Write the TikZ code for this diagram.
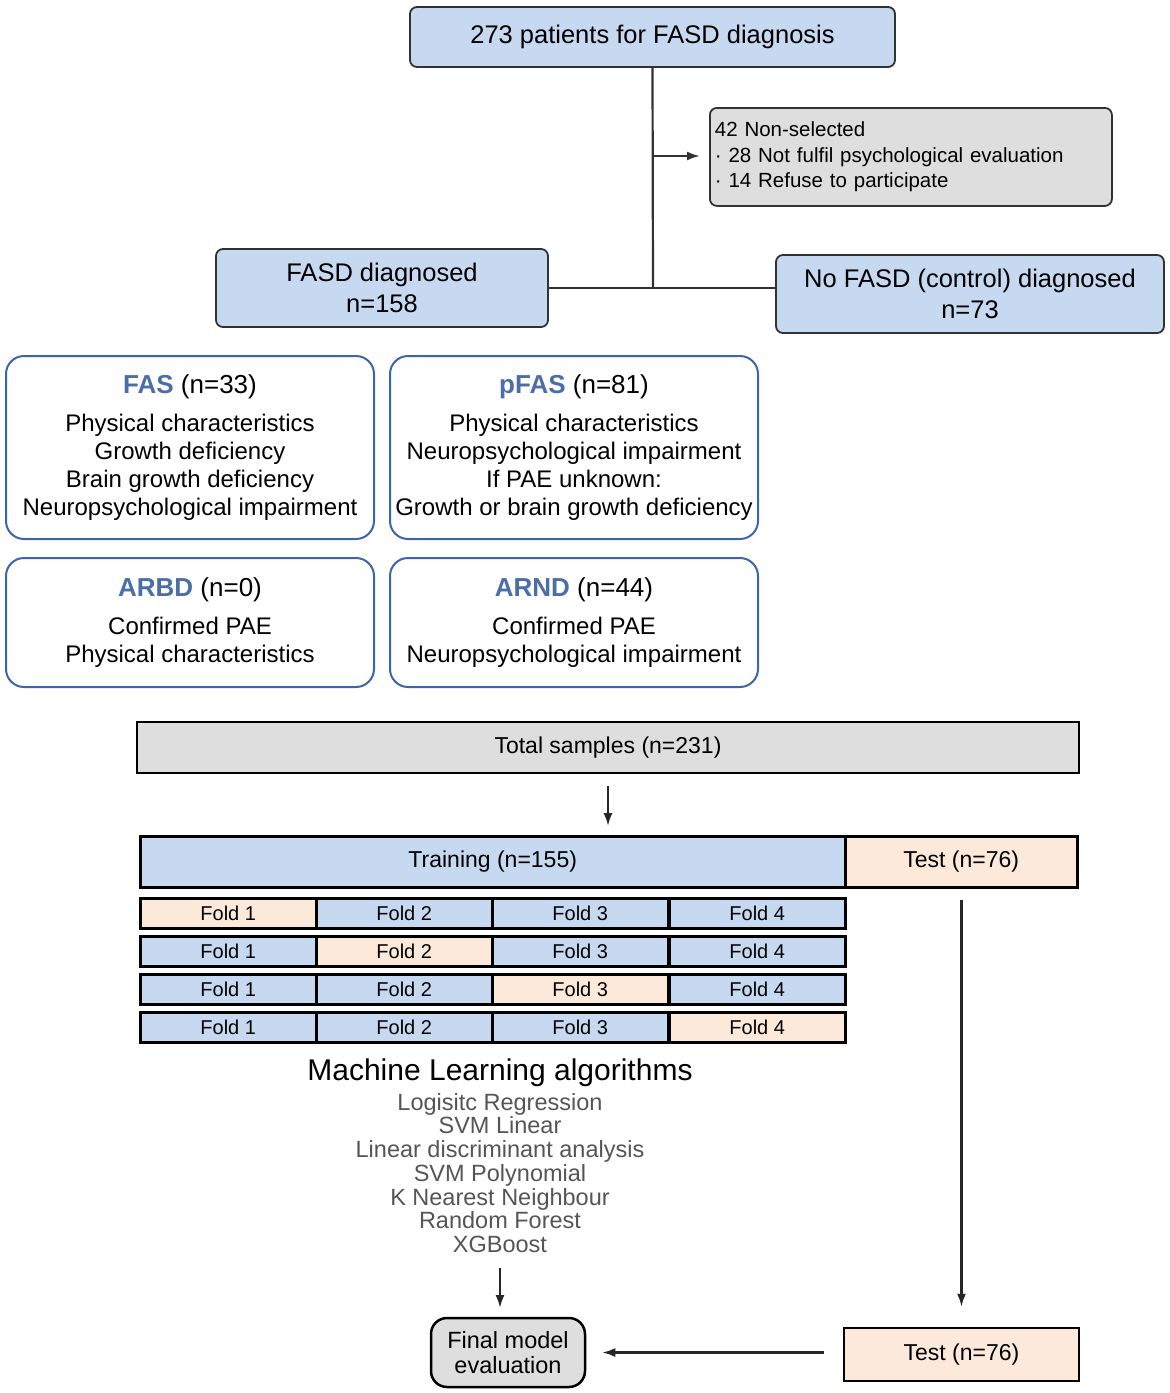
\documentclass[tikz,border=0pt]{standalone}
\usepackage{fontspec}
\setmainfont{Liberation Sans}
\usetikzlibrary{arrows.meta}
\definecolor{cblue}{RGB}{198,217,241}
\definecolor{cpeach}{RGB}{253,233,218}
\definecolor{cgray}{RGB}{222,222,222}
\definecolor{cborder}{RGB}{62,100,176}
\definecolor{ctitle}{RGB}{76,110,168}
\definecolor{cdark}{RGB}{50,50,50}
\definecolor{clist}{RGB}{85,85,85}
\tikzset{
  topbox/.style={draw=cdark, line width=1.8pt, rounded corners=7pt, fill=cblue, align=center, inner sep=0pt},
  catbox/.style={draw=cborder, line width=2pt, rounded corners=18pt, fill=white, align=center, inner sep=0pt, font=\fontsize{24}{28}\selectfont},
  rectbox/.style={draw=black, line width=2.5pt, inner sep=0pt, align=center, font=\fontsize{23}{27}\selectfont},
  foldbox/.style={rectbox, minimum width=176pt, minimum height=30pt, anchor=north west, font=\fontsize{20}{24}\selectfont},
  conn/.style={draw=cdark, line width=2.2pt},
  arr/.style={draw=black!85, line width=2.2pt, -{Latex[length=13pt,width=9pt]}}
}
\newcommand{\ttlfont}{\fontsize{26}{30}\selectfont}
\begin{document}
\begin{tikzpicture}[x=1pt,y=-1pt]
\useasboundingbox[fill=white] (0,0) rectangle (1170,1393);
% top part
\node[topbox, minimum width=485pt, minimum height=60pt, font=\fontsize{25.5}{30}\selectfont] (top) at (652.5,37) {273 patients for FASD diagnosis};
\node[topbox, fill=cgray, minimum width=402pt, minimum height=98pt, anchor=north west, align=left, font=\fontsize{20.5}{25.5}\selectfont, text width=392pt] (nonsel) at (709,107) {42 Non-selected\\ · 28 Not fulfil psychological evaluation\\ · 14 Refuse to participate};
\node[topbox, minimum width=332pt, minimum height=78pt, font=\fontsize{25.5}{31}\selectfont] (fasd) at (382,288) {FASD diagnosed\\ n=158};
\node[topbox, minimum width=388pt, minimum height=78pt, font=\fontsize{25.5}{31}\selectfont] (nofasd) at (970,294) {No FASD (control) diagnosed\\ n=73};
\coordinate (j1) at (653,288);
\coordinate (j2) at (653,156);
\coordinate (j3) at (700,156);
\draw[conn] (top.south) -- (j1);
\draw[conn] (fasd.east) -- (fasd.east -| nofasd.west);
\draw[conn, -{Latex[length=13pt,width=9pt]}] (j2) -- (j3);
% category boxes
\node[catbox, minimum width=368pt, minimum height=183pt] (fas) at (190,447.5) {{\ttlfont\textcolor{ctitle}{\bfseries FAS} (n=33)}\\[10pt] Physical characteristics\\ Growth deficiency\\ Brain growth deficiency\\ Neuropsychological impairment};
\node[catbox, minimum width=368pt, minimum height=183pt] (pfas) at (574,447.5) {{\ttlfont\textcolor{ctitle}{\bfseries pFAS} (n=81)}\\[10pt] Physical characteristics\\ Neuropsychological impairment\\ If PAE unknown:\\ Growth or brain growth deficiency};
\node[catbox, minimum width=368pt, minimum height=129pt] (arbd) at (190,622.5) {{\ttlfont\textcolor{ctitle}{\bfseries ARBD} (n=0)}\\[10pt] Confirmed PAE\\ Physical characteristics};
\node[catbox, minimum width=368pt, minimum height=129pt] (arnd) at (574,622.5) {{\ttlfont\textcolor{ctitle}{\bfseries ARND} (n=44)}\\[10pt] Confirmed PAE\\ Neuropsychological impairment};
% ML part
\node[rectbox, fill=cgray, minimum width=942pt, minimum height=51pt] (total) at (608,747.5) {Total samples (n=231)};
\node[rectbox, fill=cblue, minimum width=705pt, minimum height=51pt, anchor=north west] (train) at (139,835) {Training (n=155)};
\node[rectbox, fill=cpeach, minimum width=232pt, minimum height=51pt, anchor=north west] (test) at (844,835) {Test (n=76)};
\draw[arr, shorten <=12pt, shorten >=9pt] (total.south) -- (total.south |- train.north);
% folds
\node[foldbox, fill=cpeach] (f11) at (139,897) {Fold 1};
\node[foldbox, fill=cblue] (f12) at (315,897) {Fold 2};
\node[foldbox, fill=cblue] (f13) at (491,897) {Fold 3};
\node[foldbox, fill=cblue] (f14) at (668,897) {Fold 4};
\node[foldbox, fill=cblue] (f21) at (139,935) {Fold 1};
\node[foldbox, fill=cpeach] (f22) at (315,935) {Fold 2};
\node[foldbox, fill=cblue] (f23) at (491,935) {Fold 3};
\node[foldbox, fill=cblue] (f24) at (668,935) {Fold 4};
\node[foldbox, fill=cblue] (f31) at (139,973) {Fold 1};
\node[foldbox, fill=cblue] (f32) at (315,973) {Fold 2};
\node[foldbox, fill=cpeach] (f33) at (491,973) {Fold 3};
\node[foldbox, fill=cblue] (f34) at (668,973) {Fold 4};
\node[foldbox, fill=cblue] (f41) at (139,1011) {Fold 1};
\node[foldbox, fill=cblue] (f42) at (315,1011) {Fold 2};
\node[foldbox, fill=cblue] (f43) at (491,1011) {Fold 3};
\node[foldbox, fill=cpeach] (f44) at (668,1011) {Fold 4};
% algorithms
\node[font=\fontsize{30}{34}\selectfont, inner sep=0pt] (mltitle) at (500,1073) {Machine Learning algorithms};
\node[font=\fontsize{23.5}{23.7}\selectfont, text=clist, align=center, inner sep=0pt, anchor=north] (mlist) at (500,1093) {Logisitc Regression\\ SVM Linear\\ Linear discriminant analysis\\ SVM Polynomial\\ K Nearest Neighbour\\ Random Forest\\ XGBoost};
\node[draw=black, line width=2.5pt, rounded corners=16pt, fill=cgray, minimum width=154pt, minimum height=69pt, align=center, inner sep=0pt, font=\fontsize{23.5}{25}\selectfont] (final) at (508,1352.5) {Final model\\ evaluation};
\node[rectbox, fill=cpeach, minimum width=235pt, minimum height=53pt] (test2) at (961.5,1354.5) {Test (n=76)};
\coordinate (m1) at (500,1268);
\coordinate (m2) at (500,1308);
\draw[arr] (m1) -- (m2);
\draw[arr, shorten <=11pt, shorten >=20pt] (test.south -| test2.north) -- (test2.north);
\draw[arr, shorten <=19pt, shorten >=16pt] (test2.west |- final.east) -- (final.east);
\end{tikzpicture}
\end{document}
